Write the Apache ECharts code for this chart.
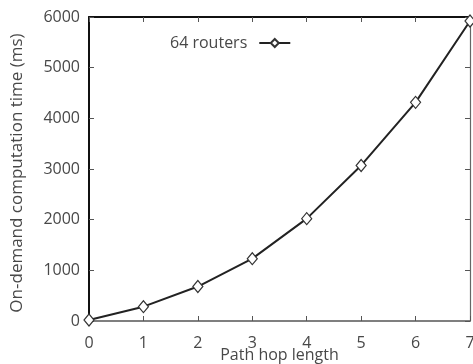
<!DOCTYPE html>
<html><head><meta charset="utf-8">
<script src="https://cdn.jsdelivr.net/npm/echarts@6/dist/echarts.min.js"></script>
<style>html,body{margin:0;padding:0;background:#fff}#c{width:473px;height:364px}</style>
</head><body><div id="c"></div>
<script>
const hops = [0, 1, 2, 3, 4, 5, 6, 7];
const times = [20, 283, 680, 1230, 2020, 3070, 4315, 5920];
const yTicks = [0, 1000, 2000, 3000, 4000, 5000, 6000];
const seriesName = '64 routers';

const font = 'Open Sans';
const txt = '#484848';
const chart = echarts.init(document.getElementById('c'), null, {renderer: 'canvas'});
chart.setOption({
  animation: false,
  grid: {left: 89, right: 3, top: 17, bottom: 43, outerBoundsMode: 'none', containLabel: false},
  legend: {
    left: 170, top: 35, align: 'right', itemWidth: 31, itemHeight: 10, padding: 0,
    textStyle: {fontFamily: font, fontSize: 16, color: txt, padding: [0, 7, 0, 0]},
    data: [seriesName]
  },
  xAxis: [{
    type: 'value', min: 0, max: 7, interval: 1,
    name: 'Path hop length', nameLocation: 'middle', nameGap: 26, nameMoveOverlap: false,
    nameTextStyle: {fontFamily: font, fontSize: 16, color: txt},
    axisLine: {onZero: false, lineStyle: {color: '#555', width: 1.5}},
    axisTick: {inside: true, length: 5, lineStyle: {color: '#555'}},
    axisLabel: {fontFamily: font, fontSize: 16, color: txt, margin: 14},
    splitLine: {show: false}
  }, {
    type: 'value', min: 0, max: 7, interval: 1, position: 'top',
    axisLine: {show: true, onZero: false, lineStyle: {color: '#111', width: 2}},
    axisTick: {show: true, inside: true, length: 5, lineStyle: {color: '#555'}},
    axisLabel: {show: false}, splitLine: {show: false}
  }],
  yAxis: [{
    type: 'value', min: yTicks[0], max: yTicks[yTicks.length - 1], interval: 1000,
    name: 'On-demand computation time (ms)', nameLocation: 'middle', nameGap: 63, nameMoveOverlap: false,
    nameTextStyle: {fontFamily: font, fontSize: 17, color: txt, padding: [0, 8, 0, 0]},
    axisLine: {show: true, onZero: false, lineStyle: {color: '#111', width: 2}},
    axisTick: {show: true, inside: true, length: 5, lineStyle: {color: '#555'}},
    axisLabel: {fontFamily: font, fontSize: 16, color: txt, margin: 9,
      formatter: v => String(v)},
    splitLine: {show: false}
  }, {
    type: 'value', min: 0, max: 6000, interval: 1000, position: 'right',
    axisLine: {show: true, onZero: false, lineStyle: {color: '#666', width: 1.2}},
    axisTick: {show: true, inside: true, length: 5, lineStyle: {color: '#555'}},
    axisLabel: {show: false}, splitLine: {show: false}
  }],
  series: [{
    name: seriesName, type: 'line',
    data: hops.map((h, i) => [h, times[i]]),
    symbol: 'diamond', symbolSize: [10, 12],
    lineStyle: {color: '#222', width: 2},
    itemStyle: {color: '#fff', borderColor: '#333', borderWidth: 1.2},
    clip: false
  }]
});
</script></body></html>
